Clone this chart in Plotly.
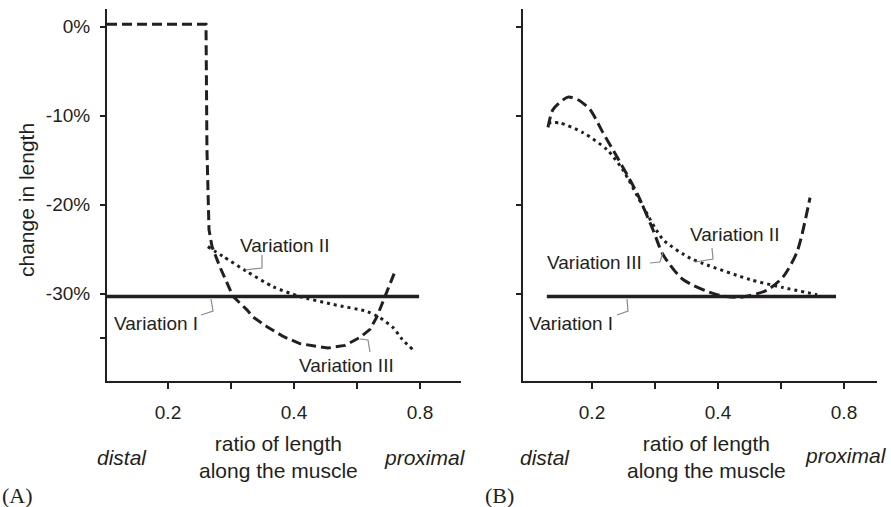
import plotly.graph_objects as go

W, H = 891, 507

# ---------------- data (x: ratio of length along the muscle, y: change in length %) -------------
# Panel A
a_x_var1 = [0.143, 0.796]
a_y_var1 = [-30.3, -30.3]
a_x_var2 = [0.249, 0.2707, 0.3088, 0.3564, 0.413, 0.496, 0.598, 0.642, 0.690, 0.725, 0.770]
a_y_var2 = [-24.7, -25.8, -27.5, -29.2, -30.3, -31.2, -32.0, -32.7, -33.8, -35.1, -36.3]
a_x_var3 = [0.143, 0.2465, 0.2478, 0.249, 0.2506, 0.2548, 0.2662, 0.286, 0.3088, 0.319,
            0.3448, 0.377, 0.413, 0.482, 0.5296, 0.575, 0.6076, 0.631, 0.66, 0.697]
a_y_var3 = [0.3, 0.3, -13.8, -19.4, -22.8, -24.7, -27.0, -30.3, -31.8, -32.6,
            -33.7, -34.8, -35.6, -36.1, -35.8, -34.9, -34.0, -32.6, -30.3, -27.5]

# Panel B
b_x_var1 = [0.156, 0.7656]
b_y_var1 = [-30.3, -30.3]
b_x_var2 = [0.157, 0.1677, 0.1904, 0.2172, 0.2372, 0.2648, 0.2956, 0.343, 0.3684, 0.477, 0.572, 0.690]
b_y_var2 = [-10.8, -10.8, -11.9, -13.8, -16.1, -20.2, -23.9, -26.0, -26.6, -28.4, -29.3, -30.1]
b_x_var3 = [0.157, 0.1614, 0.1752, 0.1852, 0.1978, 0.2125, 0.2294, 0.2562, 0.2797, 0.2956,
            0.330, 0.3978, 0.4515, 0.5238, 0.572, 0.6178, 0.6636]
b_y_var3 = [-11.3, -9.3, -7.9, -8.2, -9.3, -11.9, -14.6, -18.7, -22.8, -25.6,
            -28.4, -30.1, -30.4, -29.6, -28.1, -25.3, -19.2]

x_tickvals = [0.2, 0.2828, 0.4, 0.5657, 0.8]
x_ticktext = ["0.2", "", "0.4", "", "0.8"]
ya_tickvals = [0, -10, -20, -30, -35]
ya_ticktext = ["0%", "-10%", "-20%", "-30%", ""]
yb_tickvals = [0, -10, -20, -30]

INK = "#231f20"
GRAY = "#8a8a8a"
FONT = "Liberation Sans, Arial, sans-serif"

fig = go.Figure()

def add(x, y, xa, ya, dash, width=3, shape="linear"):
    fig.add_trace(go.Scatter(x=x, y=y, xaxis=xa, yaxis=ya, mode="lines",
                             line=dict(color=INK, width=width, dash=dash, shape=shape,
                                       smoothing=0.7),
                             showlegend=False, hoverinfo="skip"))

add(a_x_var1, a_y_var1, "x", "y", "solid", 3.5)
add(a_x_var2, a_y_var2, "x", "y", "3px,4px", 3, "spline")
add(a_x_var3, a_y_var3, "x", "y", "10px,5px", 3)
add(b_x_var1, b_y_var1, "x2", "y2", "solid", 3.5)
add(b_x_var2, b_y_var2, "x2", "y2", "3px,4px", 3, "spline")
add(b_x_var3, b_y_var3, "x2", "y2", "11px,5px", 3, "spline")

ydom = [1 - 381 / H, 1 - 9 / H]
common_x = dict(type="log", showline=True, linecolor=INK, linewidth=2, showgrid=False,
                zeroline=False, ticks="outside", ticklen=6, tickwidth=1.5, tickcolor=INK,
                tickvals=x_tickvals, ticktext=x_ticktext, ticklabelstandoff=7,
                tickfont=dict(family=FONT, size=19, color=INK), fixedrange=True)
common_y = dict(range=[-39.8, 2.0], showline=True, linecolor=INK, linewidth=2, showgrid=False,
                zeroline=False, ticks="outside", ticklen=5, tickwidth=1.5, tickcolor=INK,
                tickfont=dict(family=FONT, size=19, color=INK), fixedrange=True)

fig.update_layout(
    width=W, height=H, margin=dict(l=0, r=0, t=0, b=0),
    paper_bgcolor="white", plot_bgcolor="white",
    xaxis=dict(common_x, domain=[107 / W, 461 / W], range=[-0.8447, 0.00105], anchor="y"),
    yaxis=dict(common_y, domain=ydom, anchor="x", tickvals=ya_tickvals, ticktext=ya_ticktext,
               ticklabelstandoff=6),
    xaxis2=dict(common_x, domain=[523 / W, 877 / W], range=[-0.8638, -0.0181], anchor="y2"),
    yaxis2=dict(common_y, domain=ydom, anchor="x2", tickvals=yb_tickvals,
                ticktext=["", "", "", ""]),
)

def P(px, py):
    return px / W, 1 - py / H

def text(s, px, py, xanchor="left", size=19, italic=False, family=FONT, angle=0):
    x, y = P(px, py)
    fig.add_annotation(x=x, y=y, xref="paper", yref="paper", text=s, showarrow=False,
                       xanchor=xanchor, yanchor="middle", textangle=angle,
                       font=dict(family=family, size=size, color=INK,
                                 style="italic" if italic else "normal"))

def leader(pts):
    path = "M " + " L ".join(f"{px / W},{1 - py / H}" for px, py in pts)
    fig.add_shape(type="path", path=path, xref="paper", yref="paper",
                  line=dict(color=GRAY, width=1.2))

# Panel A labels
text("Variation II", 238, 245)
leader([(262, 255), (262, 268), (245, 270)])
text("Variation I", 112, 323)
leader([(211, 299), (213, 311), (201, 315)])
text("Variation III", 297, 365)
leader([(360, 339), (368, 340), (370, 352)])

# Panel B labels
text("Variation II", 688, 235)
leader([(712, 248), (713, 259), (695, 262)])
text("Variation III", 545, 262)
leader([(650, 263), (660, 262), (663, 252)])
text("Variation I", 527, 323)
leader([(627, 299), (628, 311), (617, 315)])

# axis words
text("change in length", 26, 200, xanchor="center", size=21, angle=-90)
text("distal", 122, 457, xanchor="center", size=21, italic=True)
text("ratio of length<br>along the muscle", 278, 457, xanchor="center", size=21)
text("proximal", 382, 457, xanchor="left", size=21, italic=True)
text("distal", 545, 457, xanchor="center", size=21, italic=True)
text("ratio of length<br>along the muscle", 706, 457, xanchor="center", size=21)
text("proximal", 846, 455, xanchor="center", size=21, italic=True)
text("(A)", 0, 495, xanchor="left", size=22, family="Liberation Serif, Times New Roman, serif")
text("(B)", 483, 495, xanchor="left", size=22, family="Liberation Serif, Times New Roman, serif")

fig.write_html("out.html", config={"displayModeBar": False},
               post_script="document.body.style.margin='0';document.body.style.overflow='hidden';")
